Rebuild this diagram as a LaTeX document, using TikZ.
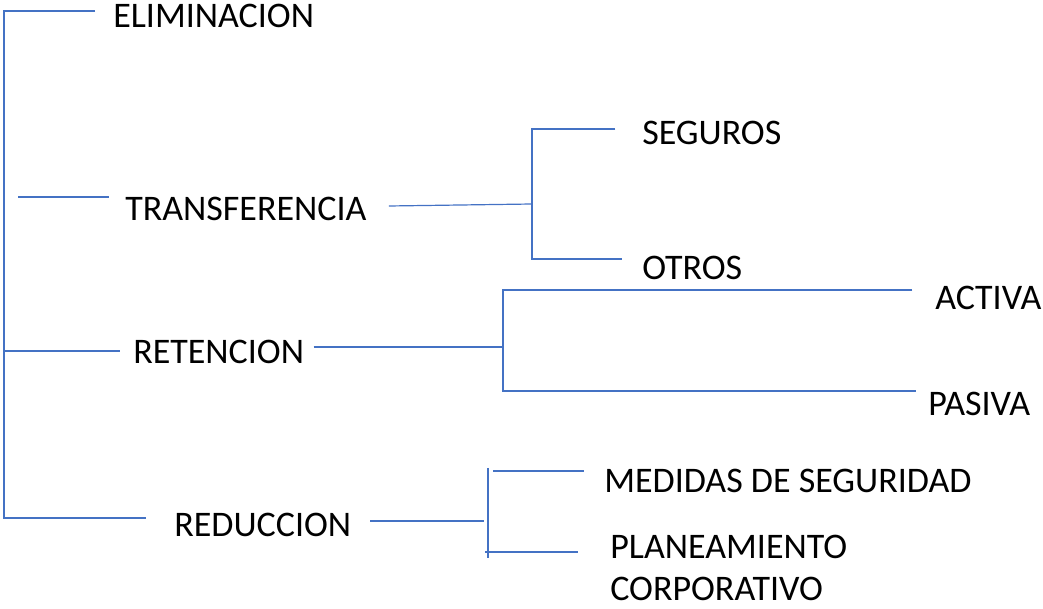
\documentclass[tikz,border=0pt]{standalone}
\usepackage{fontspec}
\setmainfont{Carlito}
\usetikzlibrary{positioning}
\definecolor{treeblue}{HTML}{4472C4}

\begin{document}
\begin{tikzpicture}[
      x=0.75pt, y=-0.75pt,
      item/.style={anchor=west, inner sep=0pt, align=left, font=\fontsize{27}{31}\selectfont},
      branch/.style={draw=treeblue, line width=0.9pt}
      ]
    \useasboundingbox (0,0) rectangle (1043,609);

    % Nodes
    \node[item] (elim) at (113,16) {ELIMINACION};
    \node[item] (transf) at (125,209) {TRANSFERENCIA};
    \node[item] (seguros) at (642,133) {SEGUROS};
    \node[item] (otros) at (642,268) {OTROS};
    \node[item] (reten) at (133,352) {RETENCION};
    \node[item] (activa) at (935,298) {ACTIVA};
    \node[item] (pasiva) at (928,404) {PASIVA};
    \node[item] (reduc) at (174,525) {REDUCCION};
    \node[item] (medidas) at (604,481) {MEDIDAS DE SEGURIDAD};
    \node[item] (planea) at (610,568) {PLANEAMIENTO\\CORPORATIVO};

    % Junctions
    \coordinate (spineTop) at (4,11);
    \coordinate (spineRet) at (4,351);
    \coordinate (spineBot) at (4,518);
    \coordinate (stubTr) at (18,197);
    \coordinate (trIn) at (532,204);
    \coordinate (trTop) at (532,129);
    \coordinate (trBot) at (532,259);
    \coordinate (reIn) at (503,347);
    \coordinate (reTop) at (503,290);
    \coordinate (reBot) at (503,391);
    \coordinate (rdIn) at (484,521);
    \coordinate (rdTop) at (488,468);
    \coordinate (rdBot) at (488,558);

    % Main spine
    \draw[branch] ([xshift=-13.5pt]elim.west |- spineTop) -- (spineTop) -- (spineBot)
                  -- ([xshift=-21pt]reduc.west |- spineBot);
    \draw[branch] (spineRet) -- ([xshift=-10pt]reten.west |- spineRet);
    \draw[branch] (stubTr) -- ([xshift=-12pt]transf.west |- stubTr);

    % Transferencia
    \draw[branch] ([xshift=16.5pt,yshift=2.25pt]transf.east) -- (trIn);
    \draw[branch] ([xshift=-20pt]seguros.west |- trTop) -- (trTop) -- (trBot)
                  -- ([xshift=-15pt]otros.west |- trBot);

    % Retencion
    \draw[branch] ([xshift=7pt]reten.east |- reIn) -- (reIn);
    \draw[branch] ([xshift=-17pt]activa.west |- reTop) -- (reTop) -- (reBot)
                  -- ([xshift=-9pt]pasiva.west |- reBot);

    % Reduccion
    \draw[branch] ([xshift=14pt]reduc.east |- rdIn) -- (rdIn);
    \draw[branch] (rdTop) -- (rdBot);
    \draw[branch] ([xshift=4pt]rdTop |- 0,471) -- ([xshift=-15pt]medidas.west |- 0,471);
    \draw[branch] ([xshift=-2pt]rdBot |- 0,552) -- ([xshift=-24pt]planea.west |- 0,552);

\end{tikzpicture}
\end{document}
